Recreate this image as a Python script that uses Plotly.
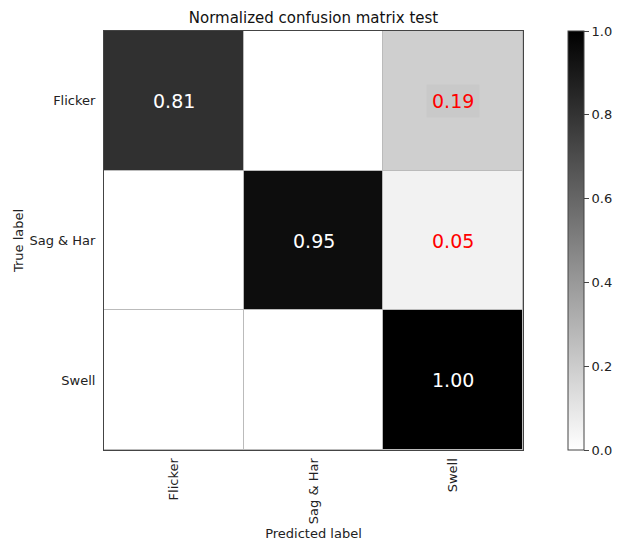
import plotly.graph_objects as go

# Normalized confusion matrix (rows = true class, columns = predicted class)
classes = ["Flicker", "Sag & Har", "Swell"]
row_flicker = [0.81, 0.00, 0.19]
row_sag_har = [0.00, 0.95, 0.05]
row_swell = [0.00, 0.00, 1.00]
matrix = [row_flicker, row_sag_har, row_swell]

font_family = "DejaVu Sans"

fig = go.Figure(
    go.Heatmap(
        z=matrix,
        x=classes,
        y=classes,
        zmin=0,
        zmax=1,
        colorscale=[[0, "#ffffff"], [1, "#000000"]],
        xgap=1,
        ygap=1,
        hoverinfo="skip",
        colorbar=dict(
            x=1.107,
            xanchor="left",
            xpad=0,
            y=0.5,
            yanchor="middle",
            len=1,
            lenmode="fraction",
            ypad=0,
            thickness=16,
            outlinewidth=1,
            outlinecolor="#444444",
            tickvals=[0, 0.2, 0.4, 0.6, 0.8, 1.0],
            tickformat=".1f",
            ticks="outside",
            ticklen=5,
            tickcolor="#444444",
            tickfont=dict(family=font_family, size=13, color="#222222"),
        ),
    )
)

# Cell value labels: strong values in white, weaker misclassifications in red
annotations = []
for i, true_cls in enumerate(classes):
    for j, pred_cls in enumerate(classes):
        v = matrix[i][j]
        if v == 0:
            continue
        strong = v > 0.5
        ann = dict(
            x=pred_cls,
            y=true_cls,
            text=f"{v:.2f}",
            showarrow=False,
            font=dict(family=font_family, size=19, color="#ffffff" if strong else "#ff0000"),
        )
        if not strong and v > 0.1:
            ann.update(bgcolor="#c9c9c9", borderpad=5)
        annotations.append(ann)

fig.update_layout(
    width=619,
    height=541,
    margin=dict(l=104, r=96, t=31, b=91, autoexpand=False),
    paper_bgcolor="#ffffff",
    plot_bgcolor="#bbbbbb",
    font=dict(family=font_family, size=13, color="#222222"),
    title=dict(
        text="Normalized confusion matrix test",
        x=(104 + 523) / 2 / 619,
        xanchor="center",
        y=1 - 18 / 541,
        yanchor="middle",
        font=dict(family=font_family, size=15, color="#111111"),
    ),
    annotations=annotations,
    xaxis=dict(
        title=dict(text="Predicted label", standoff=12, font=dict(size=13)),
        tickangle=-90,
        ticks="",
        ticklabelstandoff=2,
        showgrid=False,
        zeroline=False,
        showline=True,
        mirror=True,
        linecolor="#444444",
        linewidth=1,
        automargin=False,
    ),
    yaxis=dict(
        title=dict(text="True label", standoff=2, font=dict(size=13)),
        autorange="reversed",
        ticks="",
        ticklabelstandoff=5,
        showgrid=False,
        zeroline=False,
        showline=True,
        mirror=True,
        linecolor="#444444",
        linewidth=1,
        automargin=False,
    ),
)

fig.write_html("out.html")
